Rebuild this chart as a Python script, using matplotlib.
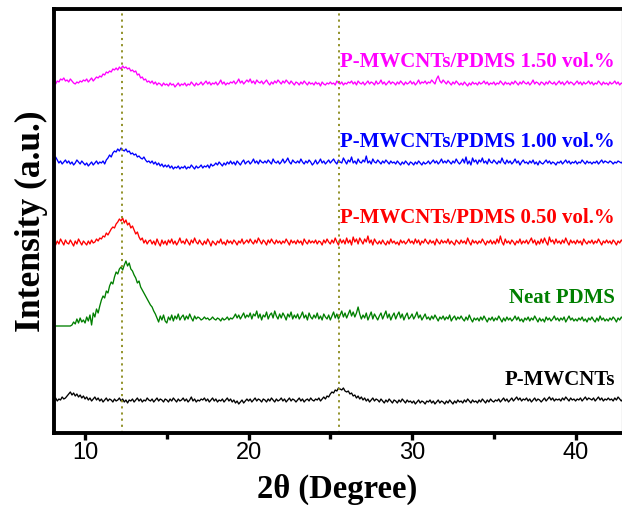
import matplotlib
matplotlib.use("Agg")
import matplotlib.pyplot as plt
import numpy as np

# XRD scans, 8.0-42.9 deg in 0.1 deg steps, one row of the listing per degree.
# Intensities are already stacked (a.u.).
pdms_150 = [
    350, 352, 351, 354, 353, 356, 355, 357, 354, 355,
    353, 356, 354, 352, 351, 353, 352, 354, 353, 355,
    354, 356, 353, 355, 357, 354, 356, 358, 357, 359,
    358, 361, 360, 363, 362, 364, 363, 366, 365, 367,
    365, 368, 366, 369, 367, 368, 366, 367, 364, 365,
    363, 364, 360, 361, 357, 358, 355, 356, 353, 354,
    352, 354, 351, 353, 350, 352, 351, 349, 352, 350,
    351, 349, 352, 350, 351, 348, 350, 352, 349, 351,
    350, 352, 349, 351, 350, 353, 351, 349, 352, 350,
    351, 353, 350, 352, 354, 351, 353, 350, 352, 351,
    353, 350, 352, 355, 351, 353, 350, 352, 351, 353,
    352, 354, 351, 353, 356, 352, 354, 351, 353, 355,
    353, 356, 352, 354, 351, 355, 353, 352, 354, 351,
    353, 355, 352, 350, 353, 351, 354, 352, 355, 353,
    351, 354, 352, 355, 353, 351, 354, 352, 350, 353,
    352, 350, 353, 351, 354, 352, 350, 353, 351, 352,
    350, 353, 351, 352, 349, 353, 351, 350, 352, 351,
    353, 351, 352, 350, 354, 352, 351, 353, 350, 352,
    351, 353, 352, 354, 351, 353, 350, 354, 352, 351,
    353, 350, 352, 354, 351, 353, 352, 350, 354, 351,
    352, 355, 351, 353, 350, 352, 354, 351, 353, 352,
    350, 353, 351, 354, 352, 350, 353, 351, 352, 354,
    351, 353, 350, 352, 355, 351, 353, 352, 354, 351,
    353, 352, 355, 353, 351, 356, 359, 354, 352, 355,
    353, 351, 354, 352, 350, 353, 351, 354, 352, 350,
    352, 350, 353, 351, 349, 352, 350, 353, 351, 352,
    350, 353, 351, 352, 354, 351, 353, 350, 352, 351,
    353, 350, 352, 351, 354, 352, 350, 353, 351, 352,
    350, 353, 351, 354, 352, 350, 353, 351, 354, 352,
    351, 353, 350, 352, 355, 351, 353, 352, 350, 353,
    352, 350, 353, 351, 354, 352, 351, 353, 350, 352,
    354, 351, 353, 350, 352, 354, 351, 353, 352, 350,
    352, 354, 351, 353, 350, 353, 351, 352, 354, 351,
    353, 350, 352, 351, 354, 352, 350, 353, 351, 352,
    350, 353, 351, 352, 354, 351, 353, 350, 352, 351,
]

pdms_100 = [
    273, 276, 278, 275, 272, 274, 271, 273, 275, 272,
    274, 271, 273, 270, 272, 275, 273, 271, 274, 272,
    270, 272, 269, 271, 273, 270, 272, 274, 271, 273,
    272, 274, 271, 275, 277, 280, 278, 282, 284, 283,
    286, 284, 287, 285, 284, 286, 283, 284, 281, 282,
    280, 281, 278, 279, 277, 276, 278, 275, 273, 274,
    272, 274, 271, 273, 270, 272, 269, 271, 268, 270,
    268, 270, 267, 269, 266, 268, 267, 269, 266, 268,
    267, 269, 266, 268, 267, 270, 268, 266, 269, 267,
    268, 270, 267, 269, 268, 270, 267, 271, 269, 270,
    272, 270, 273, 271, 269, 272, 270, 273, 271, 274,
    271, 273, 270, 274, 272, 270, 273, 275, 271, 273,
    274, 271, 273, 276, 272, 274, 271, 275, 273, 272,
    274, 272, 275, 273, 271, 276, 273, 272, 274, 271,
    273, 276, 272, 274, 277, 273, 271, 275, 273, 272,
    274, 272, 276, 273, 271, 274, 272, 275, 273, 270,
    272, 275, 271, 273, 276, 272, 274, 271, 273, 275,
    272, 274, 276, 273, 271, 275, 273, 272, 277, 274,
    271, 275, 273, 278, 272, 274, 271, 276, 273, 272,
    275, 273, 279, 272, 274, 271, 276, 273, 272, 275,
    273, 271, 274, 272, 275, 273, 271, 274, 272, 273,
    271, 274, 272, 270, 273, 271, 274, 272, 270, 273,
    272, 270, 273, 271, 274, 272, 270, 273, 271, 272,
    274, 271, 273, 275, 272, 274, 271, 273, 276, 272,
    274, 272, 275, 273, 271, 274, 272, 276, 273, 271,
    273, 276, 272, 278, 271, 274, 270, 277, 273, 275,
    271, 275, 273, 277, 272, 274, 271, 276, 273, 272,
    275, 273, 271, 274, 272, 277, 273, 271, 275, 272,
    274, 271, 273, 276, 272, 274, 270, 273, 275, 272,
    273, 271, 274, 272, 275, 271, 273, 270, 274, 272,
    271, 273, 275, 272, 274, 271, 273, 272, 270, 273,
    272, 274, 271, 273, 275, 272, 274, 271, 273, 272,
    274, 271, 273, 272, 275, 273, 271, 274, 272, 273,
    271, 273, 272, 274, 271, 273, 275, 272, 274, 273,
    272, 274, 273, 271, 273, 272, 274, 273, 272, 274,
]

pdms_050 = [
    195, 192, 190, 194, 191, 196, 193, 190, 195, 192,
    191, 195, 192, 189, 194, 191, 196, 193, 190, 194,
    192, 190, 194, 191, 195, 192, 193, 196, 194, 197,
    196, 199, 198, 202, 200, 203, 206, 208, 207, 211,
    213, 216, 214, 217, 212, 215, 210, 212, 207, 209,
    205, 201, 203, 198, 195, 197, 192, 195, 191, 194,
    195, 191, 194, 190, 196, 192, 189, 195, 191, 194,
    190, 195, 192, 196, 191, 194, 190, 193, 197, 192,
    194, 191, 196, 193, 190, 195, 192, 197, 193, 191,
    195, 192, 190, 194, 191, 196, 193, 189, 194, 192,
    190, 194, 192, 196, 191, 193, 190, 195, 192, 194,
    191, 195, 193, 190, 194, 192, 196, 191, 193, 195,
    192, 196, 193, 191, 195, 192, 197, 194, 191, 195,
    193, 190, 195, 192, 196, 193, 191, 195, 192, 194,
    191, 194, 192, 196, 193, 190, 195, 192, 194, 191,
    195, 192, 194, 190, 196, 193, 191, 195, 192, 194,
    192, 195, 191, 194, 193, 190, 195, 192, 196, 193,
    191, 195, 192, 197, 193, 190, 196, 192, 195, 191,
    197, 192, 195, 190, 198, 193, 196, 191, 197, 194,
    191, 196, 193, 199, 192, 195, 190, 196, 193, 191,
    194, 191, 195, 192, 190, 194, 191, 196, 192, 194,
    191, 193, 190, 195, 192, 194, 191, 193, 196, 192,
    194, 191, 196, 192, 195, 190, 194, 192, 196, 193,
    191, 195, 192, 194, 190, 196, 193, 191, 195, 192,
    194, 192, 196, 191, 194, 192, 190, 195, 193, 191,
    195, 192, 194, 191, 197, 193, 190, 195, 192, 194,
    191, 194, 192, 196, 193, 190, 194, 192, 195, 191,
    194, 191, 196, 192, 199, 193, 190, 196, 192, 194,
    191, 195, 193, 190, 194, 192, 196, 191, 194, 192,
    195, 191, 194, 197, 192, 195, 190, 194, 191, 196,
    192, 197, 193, 190, 198, 193, 195, 191, 196, 192,
    194, 191, 195, 192, 197, 193, 190, 195, 192, 194,
    191, 195, 192, 194, 190, 196, 193, 191, 194, 192,
    195, 191, 194, 192, 196, 193, 190, 194, 192, 195,
    192, 194, 191, 195, 193, 190, 194, 192, 195, 193,
]

neat_pdms = [
    109, 109, 109, 109, 109, 109, 109, 109, 109, 109,
    109, 109, 110, 113, 111, 116, 112, 117, 113, 115,
    112, 118, 114, 120, 110, 122, 118, 126, 122, 129,
    135, 139, 137, 144, 142, 149, 153, 151, 158, 163,
    161, 166, 168, 165, 170, 174, 169, 172, 166, 164,
    160, 157, 152, 154, 148, 145, 142, 139, 136, 133,
    130, 128, 124, 121, 117, 113, 119, 115, 120, 114,
    112, 118, 115, 120, 114, 119, 116, 121, 115, 118,
    120, 115, 119, 116, 121, 117, 114, 119, 116, 118,
    117, 115, 116, 118, 116, 117, 115, 116, 118, 116,
    115, 117, 116, 114, 117, 115, 116, 118, 115, 117,
    116, 118, 121, 117, 120, 116, 119, 122, 117, 120,
    118, 122, 116, 121, 119, 124, 117, 121, 115, 120,
    118, 123, 116, 120, 122, 117, 124, 119, 116, 121,
    117, 122, 119, 115, 121, 118, 123, 116, 120, 117,
    121, 116, 119, 123, 117, 120, 115, 122, 118, 116,
    120, 117, 122, 116, 119, 115, 121, 118, 116, 120,
    115, 119, 123, 117, 121, 116, 120, 124, 118, 122,
    117, 121, 125, 119, 123, 118, 122, 128, 121, 116,
    120, 117, 122, 115, 119, 123, 116, 121, 118, 115,
    119, 122, 116, 120, 124, 117, 121, 115, 119, 122,
    116, 120, 123, 117, 121, 115, 119, 122, 116, 118,
    121, 116, 119, 123, 117, 120, 115, 118, 121, 116,
    118, 115, 119, 116, 120, 117, 114, 118, 116, 119,
    115, 118, 116, 120, 114, 117, 119, 115, 118, 116,
    119, 116, 114, 118, 115, 120, 116, 113, 117, 115,
    117, 114, 118, 115, 119, 116, 113, 117, 115, 118,
    114, 117, 115, 119, 116, 113, 117, 114, 118, 115,
    117, 114, 116, 119, 115, 118, 114, 116, 113, 117,
    115, 118, 114, 117, 115, 119, 116, 113, 117, 114,
    116, 113, 118, 115, 117, 114, 116, 119, 115, 117,
    114, 117, 115, 118, 113, 116, 119, 115, 117, 114,
    116, 114, 117, 115, 118, 114, 116, 113, 117, 115,
    118, 115, 113, 117, 114, 119, 115, 117, 114, 116,
    114, 117, 115, 118, 116, 113, 117, 115, 118, 116,
]

p_mwcnts = [
    36, 35, 37, 34, 36, 35, 38, 36, 37, 39,
    41, 43, 40, 42, 39, 41, 38, 40, 37, 39,
    36, 38, 35, 37, 34, 36, 38, 35, 37, 34,
    36, 33, 35, 37, 34, 36, 35, 33, 36, 34,
    35, 37, 34, 36, 33, 35, 32, 35, 34, 36,
    33, 35, 37, 34, 36, 33, 35, 34, 37, 35,
    34, 36, 33, 35, 37, 34, 36, 35, 33, 36,
    35, 33, 36, 34, 37, 35, 33, 36, 34, 35,
    37, 34, 36, 33, 35, 38, 34, 36, 33, 35,
    34, 36, 35, 37, 34, 36, 33, 35, 37, 34,
    36, 33, 35, 34, 36, 33, 35, 37, 34, 36,
    33, 35, 32, 34, 31, 33, 35, 32, 34, 36,
    34, 36, 33, 35, 37, 34, 36, 35, 33, 36,
    35, 33, 36, 34, 37, 35, 33, 36, 34, 35,
    37, 34, 36, 33, 35, 37, 34, 36, 35, 33,
    35, 37, 34, 36, 33, 35, 36, 34, 37, 35,
    34, 36, 35, 37, 34, 36, 38, 36, 39, 38,
    41, 43, 42, 45, 44, 47, 46, 45, 47, 44,
    43, 44, 41, 42, 39, 40, 37, 39, 36, 38,
    35, 37, 34, 36, 33, 35, 37, 34, 36, 35,
    33, 36, 34, 32, 35, 33, 36, 34, 32, 35,
    34, 32, 35, 33, 36, 34, 32, 35, 33, 34,
    32, 34, 31, 33, 35, 32, 34, 33, 31, 34,
    33, 35, 32, 34, 31, 33, 35, 32, 34, 33,
    31, 34, 32, 35, 33, 31, 34, 32, 35, 33,
    34, 32, 35, 33, 36, 34, 32, 35, 33, 34,
    32, 35, 33, 36, 34, 32, 35, 33, 36, 34,
    33, 35, 34, 36, 33, 35, 37, 34, 36, 33,
    35, 37, 34, 36, 38, 35, 37, 34, 36, 35,
    37, 34, 36, 33, 35, 37, 34, 36, 35, 33,
    35, 37, 34, 36, 38, 35, 37, 34, 36, 35,
    36, 34, 37, 35, 38, 36, 34, 37, 35, 36,
    34, 36, 35, 37, 34, 36, 38, 35, 37, 36,
    35, 37, 34, 36, 38, 35, 37, 34, 36, 35,
    37, 35, 36, 34, 37, 35, 38, 36, 34, 36,
]

series = [pdms_150, pdms_100, pdms_050, neat_pdms, p_mwcnts]
names = ["P-MWCNTs/PDMS 1.50 vol.%", "P-MWCNTs/PDMS 1.00 vol.%",
         "P-MWCNTs/PDMS 0.50 vol.%", "Neat PDMS", "P-MWCNTs"]
colors = ["#ff00ff", "#0000ff", "#ff0000", "#007f00", "#000000"]
label_y = [373, 293, 217, 137, 55]

# reference peak positions (2theta)
peak_pos = [12.24, 25.55]

serif = "Liberation Serif"
sans = "Liberation Sans"

fig = plt.figure(figsize=(6.22, 5.05), dpi=100)
ax = fig.add_axes([53.5 / 622, 72.5 / 505, 568 / 622, 423.5 / 505])

for y, c in zip(series, colors):
    x = 8.0 + 0.1 * np.arange(len(y))
    ax.plot(x, y, color=c, lw=0.95)

for p in peak_pos:
    ax.axvline(p, color="#8a8a1a", ls=(0, (1.2, 2.2)), lw=1.3)

for name, c, ly in zip(names, colors, label_y):
    ax.text(42.4, ly, name, color=c, ha="right", va="center",
            fontsize=15, fontweight="bold", family=serif)

ax.set_xlim(8.07, 42.81)
ax.set_ylim(2.5, 426)
ax.set_xticks([10, 20, 30, 40])
ax.set_xticks([15, 25, 35], minor=True)
ax.set_yticks([])
ax.tick_params(axis="x", which="both", direction="out", length=5, width=2.4,
               top=False, pad=2)
ax.tick_params(axis="x", which="minor", length=4)
for lab in ax.get_xticklabels():
    lab.set_family(sans)
    lab.set_fontsize(17)

for side in ["left", "top", "bottom"]:
    ax.spines[side].set_linewidth(2.8)
ax.spines["right"].set_linewidth(0.8)
ax.spines["right"].set_color("#555555")

ax.set_xlabel("2θ (Degree)", family=serif, fontweight="bold", fontsize=23.5,
              labelpad=7)
ax.set_ylabel("Intensity (a.u.)", family=serif, fontweight="bold",
              fontsize=25.5, labelpad=4)

fig.savefig("out.png", dpi=100)
